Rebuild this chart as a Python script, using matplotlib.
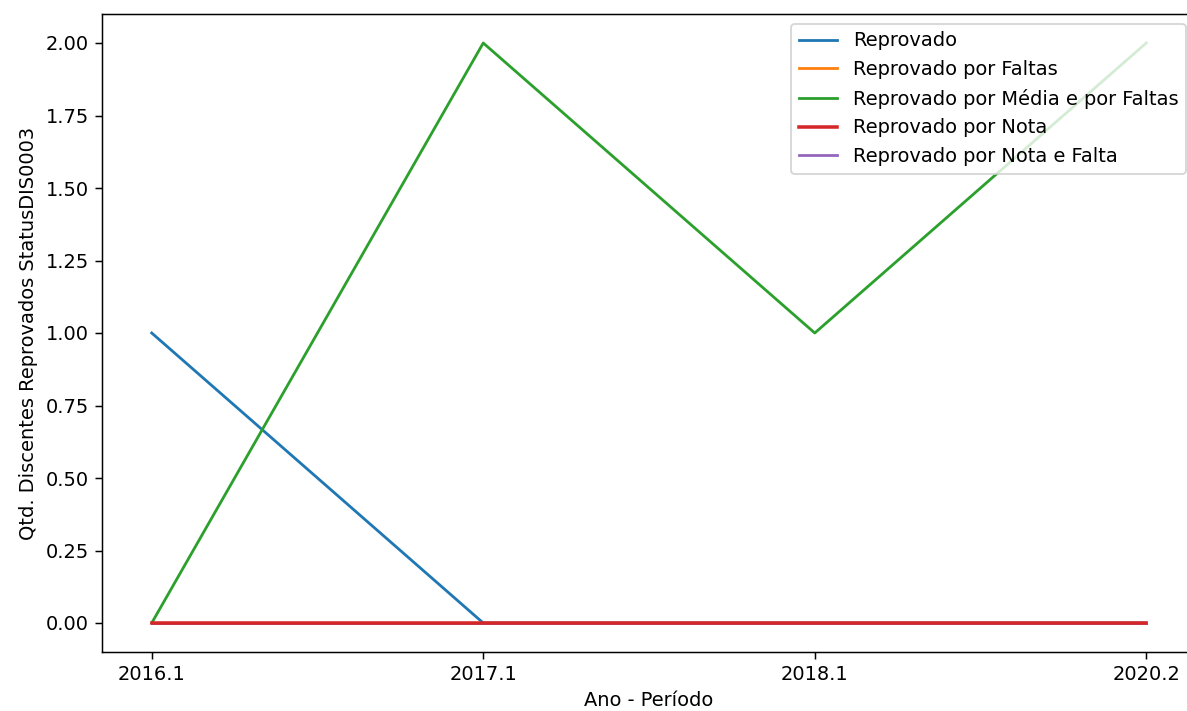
import matplotlib
matplotlib.use("Agg")
import matplotlib.pyplot as plt

periodos = ["2016.1", "2017.1", "2018.1", "2020.2"]
reprovado = [1, 0, 0, 0]
reprovado_faltas = [0, 0, 0, 0]
reprovado_media_faltas = [0, 2, 1, 2]
reprovado_nota = [0, 0, 0, 0]
reprovado_nota_falta = [0, 0, 0, 0]

plt.rcParams["font.size"] = 10.4

fig = plt.figure(figsize=(1187 / 134, 711 / 134), dpi=134)
ax = fig.add_axes([102 / 1187, 59 / 711, 1094 / 1187, 638 / 711])

ax.plot(periodos, reprovado, label="Reprovado")
ax.plot(periodos, reprovado_faltas, label="Reprovado por Faltas")
ax.plot(periodos, reprovado_media_faltas, label="Reprovado por Média e por Faltas")
ax.plot(periodos, reprovado_nota, label="Reprovado por Nota", zorder=2.2, lw=1.9)
ax.plot(periodos, reprovado_nota_falta, label="Reprovado por Nota e Falta", zorder=2.1)

ax.set_xlabel("Ano - Período")
ax.set_ylabel("Qtd. Discentes Reprovados StatusDIS0003")
ax.legend(loc="upper right")

fig.savefig("out.png", dpi=134)
